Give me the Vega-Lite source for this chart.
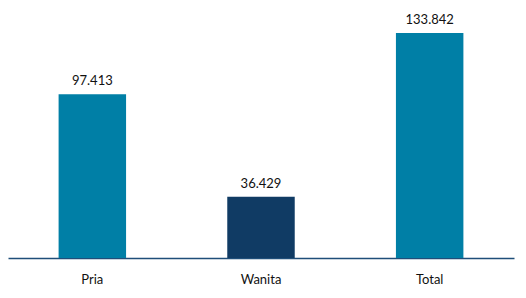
{
  "$schema": "https://vega.github.io/schema/vega-lite/v6.json",
  "width": 506,
  "height": 258,
  "padding": {"left": 8, "top": 0, "right": 12, "bottom": 0},
  "background": "white",
  "config": {
    "view": {"stroke": null},
    "font": "Lato",
    "locale": {"number": {"decimal": ",", "thousands": ".", "grouping": [3], "currency": ["Rp", ""]}}
  },
  "data": {
    "values": [
      {"kategori": "Pria", "jumlah": 97413},
      {"kategori": "Wanita", "jumlah": 36429},
      {"kategori": "Total", "jumlah": 133842}
    ]
  },
  "encoding": {
    "x": {
      "field": "kategori",
      "type": "nominal",
      "sort": null,
      "scale": {"paddingInner": 0.6, "paddingOuter": 0.3},
      "axis": {
        "title": null,
        "labelAngle": 0,
        "ticks": false,
        "tickSize": 0,
        "labelPadding": 25,
        "labelBaseline": "alphabetic",
        "labelFont": "Lato",
        "labelFontSize": 13,
        "labelColor": "#111111",
        "domainColor": "#1F4E79",
        "domainWidth": 1.5,
        "grid": false
      }
    },
    "y": {
      "field": "jumlah",
      "type": "quantitative",
      "scale": {"domain": [0, 153470], "nice": false},
      "axis": null
    }
  },
  "layer": [
    {
      "mark": {"type": "bar"},
      "encoding": {
        "color": {
          "field": "kategori",
          "type": "nominal",
          "scale": {"domain": ["Pria", "Wanita", "Total"], "range": ["#007FA6", "#103B64", "#007FA6"]},
          "legend": null
        }
      }
    },
    {
      "mark": {"type": "text", "baseline": "alphabetic", "dy": -9, "fontSize": 13, "font": "Lato", "color": "#111111"},
      "encoding": {
        "text": {"field": "jumlah", "type": "quantitative", "format": ",d"}
      }
    }
  ]
}
